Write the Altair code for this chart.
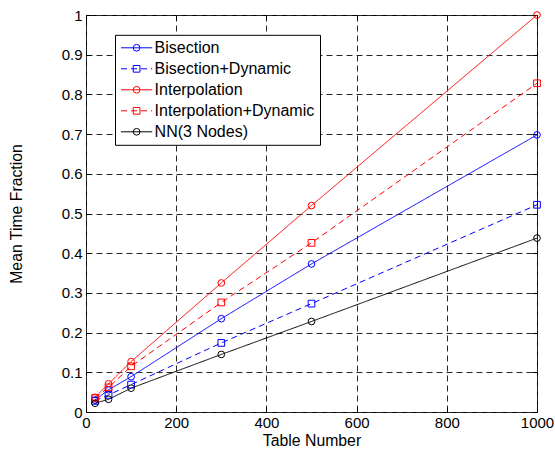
import altair as alt
import pandas as pd

# ---- data ----
table_numbers = [20, 50, 100, 300, 500, 1000]
series_names = ["Bisection", "Bisection+Dynamic", "Interpolation",
                "Interpolation+Dynamic", "NN(3 Nodes)"]
bisection = [0.030, 0.056, 0.089, 0.235, 0.373, 0.698]
bisection_dynamic = [0.028, 0.043, 0.069, 0.174, 0.273, 0.522]
interpolation = [0.037, 0.071, 0.127, 0.325, 0.520, 1.000]
interpolation_dynamic = [0.035, 0.062, 0.115, 0.276, 0.426, 0.828]
nn_3_nodes = [0.022, 0.032, 0.060, 0.145, 0.228, 0.438]

x_ticks = [0, 200, 400, 600, 800, 1000]
y_ticks = [0, 0.1, 0.2, 0.3, 0.4, 0.5, 0.6, 0.7, 0.8, 0.9, 1.0]

# ---- styles ----
colors = ["#0000ff", "#0000ff", "#ff0000", "#ff0000", "#000000"]
dashes = [[1, 0], [6, 4], [1, 0], [6, 4], [1, 0]]
shapes = ["circle", "square", "circle", "square", "circle"]
FONT = "Liberation Sans"

rows = []
for name, vals in zip(series_names, [bisection, bisection_dynamic, interpolation,
                                     interpolation_dynamic, nn_3_nodes]):
    for xv, yv in zip(table_numbers, vals):
        rows.append({"x": xv, "y": yv, "series": name, "key": name})
df = pd.DataFrame(rows)

W, H = 451, 397
LEG_X, LEG_Y, LEG_PAD, ROW_PAD, LEG_FS = 29, 19.8, 5, 5.0, 16
LABEL_OFF = 10.0


def xs():
    return alt.Scale(domain=[0, 1000], nice=False, zero=False)


def ys():
    return alt.Scale(domain=[0, 1], nice=False, zero=False)


def legend_a():
    return alt.Legend(
        title=None, orient="none", legendX=LEG_X, legendY=LEG_Y, fillColor="white",
        strokeColor="black", padding=LEG_PAD, symbolType="M-3.9,0H3.9", symbolSize=64,
        symbolStrokeWidth=1, symbolOffset=8.6, labelFont=FONT, labelFontSize=LEG_FS,
        labelColor="black", labelOffset=LABEL_OFF, rowPadding=ROW_PAD, labelLimit=400)


lines = alt.Chart(df).mark_line(strokeWidth=1).encode(
    x=alt.X("x:Q", scale=xs(), axis=alt.Axis(
        values=x_ticks, format="d", title="Table Number", grid=True, gridDash=[6, 4],
        gridColor="#262626", gridWidth=1, gridOpacity=1, ticks=False, tickSize=0,
        domain=False, labelFont=FONT, labelFontSize=15, labelColor="black",
        labelPadding=3, labelFlush=False,
        titleFont=FONT, titleFontSize=15.8, titleFontWeight="normal", titleColor="black",
        titleX=W / 2, titleY=28, titleAlign="center", titleBaseline="middle")),
    y=alt.Y("y:Q", scale=ys(), axis=alt.Axis(
        values=y_ticks, title="Mean Time Fraction", format="~g", grid=True,
        gridDash=[6, 4], gridColor="#262626", gridWidth=1, gridOpacity=1,
        ticks=False, tickSize=0, domain=False, labelFont=FONT, labelFontSize=15,
        labelColor="black", labelPadding=4, labelFlush=False,
        titleFont=FONT, titleFontSize=15.8, titleFontWeight="normal", titleColor="black",
        titleX=-70, titleY=H / 2, titleAngle=270, titleAlign="center",
        titleBaseline="middle")),
    color=alt.Color("series:N", scale=alt.Scale(range=colors), legend=legend_a()),
    strokeDash=alt.StrokeDash("series:N", scale=alt.Scale(range=dashes), legend=legend_a()),
)

legend_b = alt.Legend(
    title=None, orient="none", legendX=LEG_X, legendY=LEG_Y, padding=LEG_PAD,
    symbolSize=45, symbolStrokeWidth=1, symbolOffset=8.6, labelFont=FONT,
    labelFontSize=LEG_FS, labelOpacity=0, labelOffset=LABEL_OFF, rowPadding=ROW_PAD,
    labelLimit=400)

points = alt.Chart(df).mark_point(filled=False, size=45, strokeWidth=1, opacity=1).encode(
    x=alt.X("x:Q", scale=xs(), axis=alt.Axis(
        orient="top", values=x_ticks, labels=False, domain=False, grid=False,
        ticks=True, tickSize=5, tickColor="black", offset=-5, title=None)),
    y=alt.Y("y:Q", scale=ys(), axis=alt.Axis(
        orient="right", values=y_ticks, labels=False, domain=False, grid=False,
        ticks=True, tickSize=5, tickColor="black", offset=-5, title=None)),
    stroke=alt.Stroke("key:N", scale=alt.Scale(range=colors), legend=legend_b),
    shape=alt.Shape("key:N", scale=alt.Scale(range=shapes), legend=legend_b),
)

ticks_layer = alt.Chart(df).mark_point(opacity=0).encode(
    x=alt.X("x:Q", scale=xs(), axis=alt.Axis(
        orient="bottom", values=x_ticks, labels=False, domain=False, grid=False,
        ticks=True, tickSize=5, tickColor="black", offset=-5, title=None)),
    y=alt.Y("y:Q", scale=ys(), axis=alt.Axis(
        orient="left", values=y_ticks, labels=False, domain=False, grid=False,
        ticks=True, tickSize=5, tickColor="black", offset=-5, title=None)),
)

chart = alt.layer(lines, ticks_layer, points).resolve_scale(
    x="independent", y="independent"
).properties(
    width=W, height=H,
    padding={"left": 86, "top": 15, "right": 18, "bottom": 41},
    autosize=alt.AutoSizeParams(type="none"),
    background="white",
).configure_view(stroke="black", strokeWidth=1)

chart.save("out.html", embed_options={"renderer": "svg", "actions": False})
